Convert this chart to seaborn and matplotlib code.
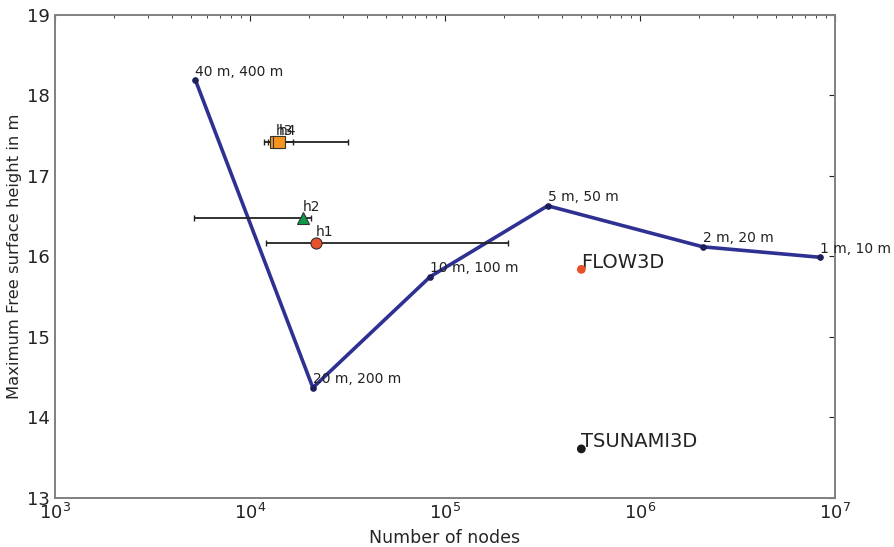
import numpy as np
import pandas as pd
import matplotlib
matplotlib.use("Agg")
import matplotlib.pyplot as plt
import seaborn as sns

# grid refinement series
nodes = [5250, 21000, 84000, 336000, 2100000, 8400000]
height = [18.19, 14.37, 15.75, 16.63, 16.12, 15.99]
grid_labels = ["40 m, 400 m", "20 m, 200 m", "10 m, 100 m", "5 m, 50 m", "2 m, 20 m", "1 m, 10 m"]

# gauges with node range
gauge_names = ["h1", "h2", "h3", "h4"]
gauge_nodes = [21800, 18700, 13600, 14000]
gauge_height = [16.17, 16.48, 17.42, 17.42]
gauge_lo = [12080, 5160, 11800, 12300]
gauge_hi = [210400, 20560, 16620, 31800]
gauge_marker = ["o", "^", "s", "s"]
gauge_color = ["#e8502a", "#0a9a48", "#f7941d", "#f7941d"]

# reference codes
ref_names = ["FLOW3D", "TSUNAMI3D"]
ref_nodes = [500000, 500000]
ref_height = [15.84, 13.61]
ref_color = ["#e8502a", "#1a1a1a"]

sns.set_style("white")
plt.rcParams["font.family"] = ["DejaVu Sans"]

fig = plt.figure(figsize=(8.95, 5.47), dpi=100)
ax = fig.add_axes([0.0615, 0.0896, 0.8715, 0.883])

df = pd.DataFrame({"nodes": nodes, "height": height})
sns.lineplot(data=df, x="nodes", y="height", ax=ax, color="#2e3192", lw=2.6,
             marker="o", markersize=4, markeredgecolor="#1c1f5a",
             markerfacecolor="#1c1f5a", zorder=3)
for x, y, s in zip(nodes, height, grid_labels):
    ax.annotate(s, (x, y), xytext=(0, 1), textcoords="offset points",
                fontsize=10, color="#222222", ha="left", va="bottom")

for i in range(len(gauge_names)):
    ax.errorbar(gauge_nodes[i], gauge_height[i],
                xerr=[[gauge_nodes[i] - gauge_lo[i]], [gauge_hi[i] - gauge_nodes[i]]],
                fmt="none", ecolor="#222222", elinewidth=1.3, capsize=2.5, zorder=4)
    ax.plot(gauge_nodes[i], gauge_height[i], marker=gauge_marker[i], ms=8,
            color=gauge_color[i], mec="#333333", mew=0.8, ls="none", zorder=5)
    ax.annotate(gauge_names[i], (gauge_nodes[i], gauge_height[i]), xytext=(0, 3),
                textcoords="offset points", fontsize=10, color="#222222",
                ha="left", va="bottom")

ref = pd.DataFrame({"nodes": ref_nodes, "height": ref_height, "name": ref_names})
sns.scatterplot(data=ref, x="nodes", y="height", hue="name", palette=ref_color,
                s=40, edgecolor="none", legend=False, ax=ax, zorder=5)
for x, y, s in zip(ref_nodes, ref_height, ref_names):
    ax.annotate(s, (x, y), xytext=(0, 5), textcoords="offset points",
                fontsize=14, color="#222222", ha="left", va="center")

ax.set_xscale("log")
ax.set_xlim(1e3, 1e7)
ax.set_ylim(13, 19)
ax.set_xlabel("Number of nodes", fontsize=12.5)
ax.set_ylabel("Maximum Free surface height in m", fontsize=11.8, labelpad=4)
ax.tick_params(which="both", direction="in", top=True, right=True, labelsize=13,
               colors="#222222")
ax.tick_params(which="major", length=4)
ax.tick_params(which="minor", length=2)
for sp in ax.spines.values():
    sp.set_color("#808080")
    sp.set_linewidth(1.4)

fig.savefig("out.png", dpi=100)
